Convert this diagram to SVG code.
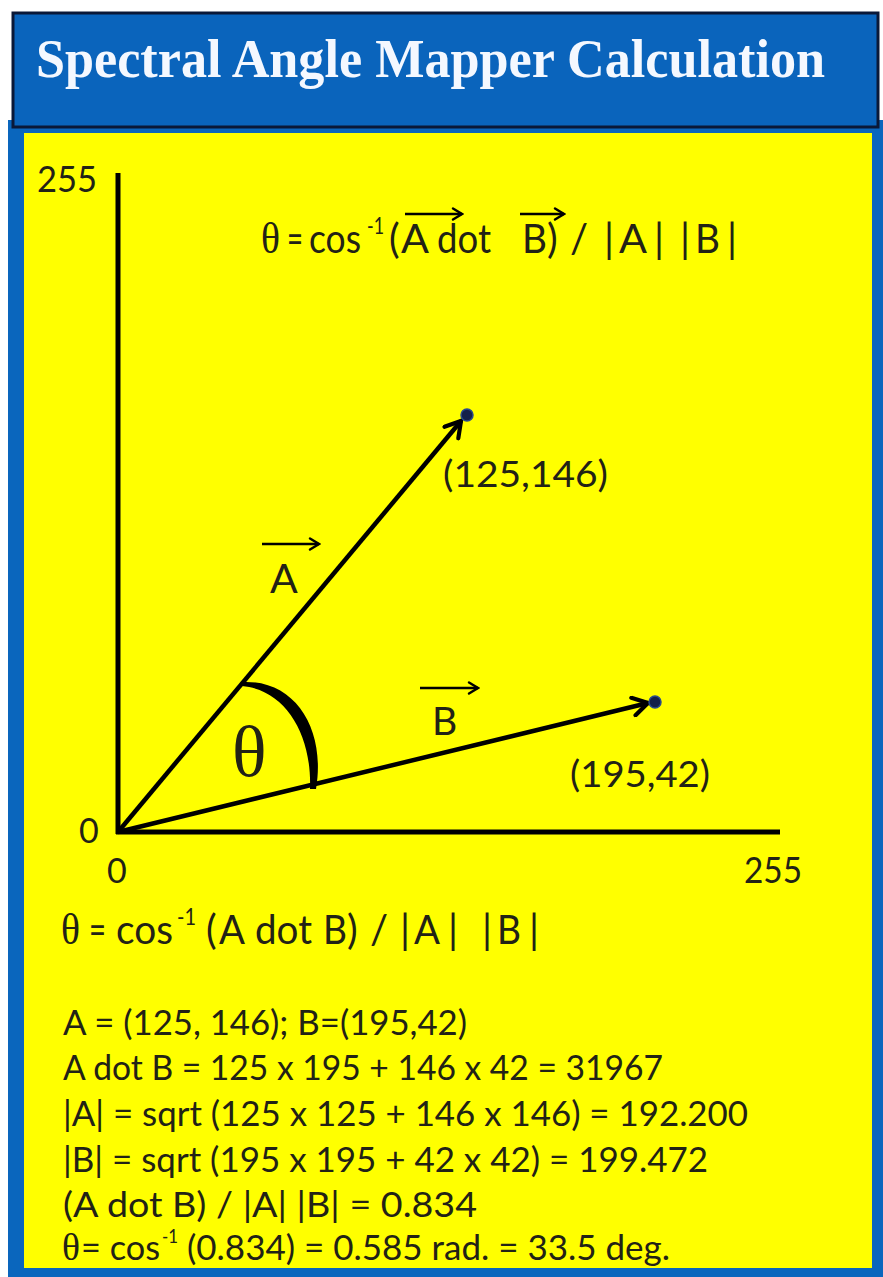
<svg xmlns="http://www.w3.org/2000/svg" width="883" height="1277" viewBox="0 0 883 1277">
<defs>
<style>
.t{font-family:Lato,"Open Sans","Liberation Sans",sans-serif;fill:#222216}
.s{font-family:"Liberation Serif","Times New Roman",serif;fill:#222216}
.f{font-family:Lato,"Open Sans","Liberation Sans",sans-serif;fill:#222216;font-size:40px}
.sup{font-family:Lato,"Open Sans","Liberation Sans",sans-serif;fill:#222216;font-size:23px}
.ax{stroke:#000;stroke-width:5;fill:none}
.vec{stroke:#000;stroke-width:4.5;fill:none;marker-end:url(#head)}
.lab{stroke:#000;stroke-width:2.4;fill:none;marker-end:url(#small)}
.dot{fill:#14204a;stroke:#2a4a8a;stroke-width:1.5}
</style>
<marker id="head" viewBox="0 0 22 22" refX="19" refY="11" markerWidth="22" markerHeight="22" markerUnits="userSpaceOnUse" orient="auto">
<path d="M4,2 L19,11 L4,20" fill="none" stroke="#000" stroke-width="4.2" stroke-linecap="round"/>
</marker>
<marker id="small" viewBox="0 0 14 14" refX="12" refY="7" markerWidth="14" markerHeight="14" markerUnits="userSpaceOnUse" orient="auto">
<path d="M3,1.5 L12,7 L3,12.5" fill="none" stroke="#000" stroke-width="2.4" stroke-linecap="round"/>
</marker>
</defs>
<rect width="883" height="1277" fill="#ffffff"/>
<g id="frame">
<rect x="8" y="120" width="875" height="1157" fill="#0A66BD"/>
<rect x="24" y="133" width="848" height="1135" fill="#FFFF00"/>
</g>
<g id="title">
<rect x="13" y="13" width="865" height="114" fill="#0A64BC" stroke="#0A1838" stroke-width="3"/>
<text x="36" y="77" font-family="'Liberation Serif','Times New Roman',serif" font-weight="bold" font-size="54" fill="#F4F8FF" textLength="789" lengthAdjust="spacingAndGlyphs">Spectral Angle Mapper Calculation</text>
</g>
<g id="connectors">
<line class="ax" x1="118" y1="173" x2="118" y2="834"/>
<line class="ax" x1="116" y1="832" x2="780" y2="832"/>
<path class="vec" d="M118,832 L461,421"/>
<path class="vec" d="M118,832 L648,703"/>
</g>
<g id="pointA"><circle class="dot" cx="467" cy="415" r="6"/></g>
<g id="pointB"><circle class="dot" cx="655" cy="702" r="6"/></g>
<g id="angle">
<path d="M243,682 C296,680 326,730 316,789 L310,789 C312,735 286,690 242,686 Z" fill="#000"/>
<text class="s" x="232" y="776" font-size="72">θ</text>
</g>
<g id="axis-labels">
<text class="t" x="37" y="192" font-size="36" textLength="60" lengthAdjust="spacingAndGlyphs">255</text>
<text class="t" x="79" y="843" font-size="34">0</text>
<text class="t" x="107" y="883" font-size="34">0</text>
<text class="t" x="744" y="883" font-size="36" textLength="58" lengthAdjust="spacingAndGlyphs">255</text>
</g>
<g id="labelA">
<path class="lab" d="M262,544 L319,544"/>
<text class="t" x="270" y="593" font-size="41">A</text>
<text class="t" x="443" y="487" font-size="37" textLength="165" lengthAdjust="spacingAndGlyphs">(125,146)</text>
</g>
<g id="labelB">
<path class="lab" d="M420,688 L478,688"/>
<text class="t" x="432" y="735" font-size="39">B</text>
<text class="t" x="570" y="787" font-size="37" textLength="140" lengthAdjust="spacingAndGlyphs">(195,42)</text>
</g>
<g id="formula-top">
<text class="s" x="261" y="253" font-size="44" textLength="19" lengthAdjust="spacingAndGlyphs">θ</text>
<text class="f" x="287" y="253" textLength="16" lengthAdjust="spacingAndGlyphs">=</text>
<text class="f" x="309" y="253" textLength="52" lengthAdjust="spacingAndGlyphs">cos</text>
<text class="sup" x="367" y="234" textLength="17" lengthAdjust="spacingAndGlyphs">-1</text>
<text class="f" x="389" y="253">(</text>
<text class="f" x="401" y="253" textLength="28" lengthAdjust="spacingAndGlyphs">A</text>
<text class="f" x="437" y="253" textLength="54" lengthAdjust="spacingAndGlyphs">dot</text>
<text class="f" x="522" y="253" textLength="25" lengthAdjust="spacingAndGlyphs">B</text>
<text class="f" x="547" y="253">)</text>
<text class="f" x="570" y="253">/</text>
<text class="f" x="604" y="253">|</text>
<text class="f" x="619" y="253" textLength="28" lengthAdjust="spacingAndGlyphs">A</text>
<text class="f" x="654" y="253">|</text>
<text class="f" x="680" y="253">|</text>
<text class="f" x="695" y="253" textLength="25" lengthAdjust="spacingAndGlyphs">B</text>
<text class="f" x="727" y="253">|</text>
<path class="lab" d="M405,214 L462,214"/>
<path class="lab" d="M520,214 L564,214"/>
</g>
<g id="formula-bottom">
<text class="s" x="61" y="944" font-size="44" textLength="19" lengthAdjust="spacingAndGlyphs">θ</text>
<text class="f" x="89" y="944" textLength="17" lengthAdjust="spacingAndGlyphs">=</text>
<text class="f" x="116" y="944" textLength="57" lengthAdjust="spacingAndGlyphs">cos</text>
<text class="sup" x="177" y="925" textLength="19" lengthAdjust="spacingAndGlyphs">-1</text>
<text class="f" x="206" y="944">(</text>
<text class="f" x="219" y="944" textLength="26" lengthAdjust="spacingAndGlyphs">A</text>
<text class="f" x="255" y="944" textLength="57" lengthAdjust="spacingAndGlyphs">dot</text>
<text class="f" x="323" y="944" textLength="24" lengthAdjust="spacingAndGlyphs">B</text>
<text class="f" x="347" y="944">)</text>
<text class="f" x="370" y="944">/</text>
<text class="f" x="400" y="944">|</text>
<text class="f" x="414" y="944" textLength="26" lengthAdjust="spacingAndGlyphs">A</text>
<text class="f" x="448" y="944">|</text>
<text class="f" x="482" y="944">|</text>
<text class="f" x="497" y="944" textLength="24" lengthAdjust="spacingAndGlyphs">B</text>
<text class="f" x="529" y="944">|</text>
</g>
<g id="calc">
<text class="t" x="63" y="1035" font-size="34" textLength="404" lengthAdjust="spacingAndGlyphs">A = (125, 146); B=(195,42)</text>
<text class="t" x="63" y="1080" font-size="34" textLength="600" lengthAdjust="spacingAndGlyphs">A dot B = 125 x 195 + 146 x 42 = 31967</text>
<text class="t" x="63" y="1126" font-size="34" textLength="685" lengthAdjust="spacingAndGlyphs">|A| = sqrt (125 x 125 + 146 x 146) = 192.200</text>
<text class="t" x="63" y="1172" font-size="34" textLength="645" lengthAdjust="spacingAndGlyphs">|B| = sqrt (195 x 195 + 42 x 42) = 199.472</text>
<text class="t" x="63" y="1217" font-size="34" textLength="414" lengthAdjust="spacingAndGlyphs">(A dot B) / |A|  |B| = 0.834</text>
<text class="s" x="62" y="1260" font-size="37" textLength="18" lengthAdjust="spacingAndGlyphs">θ</text>
<text class="t" x="81" y="1260" font-size="34" textLength="79" lengthAdjust="spacingAndGlyphs">= cos</text>
<text class="t" x="162" y="1243" font-size="20" textLength="16" lengthAdjust="spacingAndGlyphs">-1</text>
<text class="t" x="187" y="1260" font-size="34" textLength="483" lengthAdjust="spacingAndGlyphs">(0.834) = 0.585 rad. = 33.5 deg.</text>
</g>
</svg>
